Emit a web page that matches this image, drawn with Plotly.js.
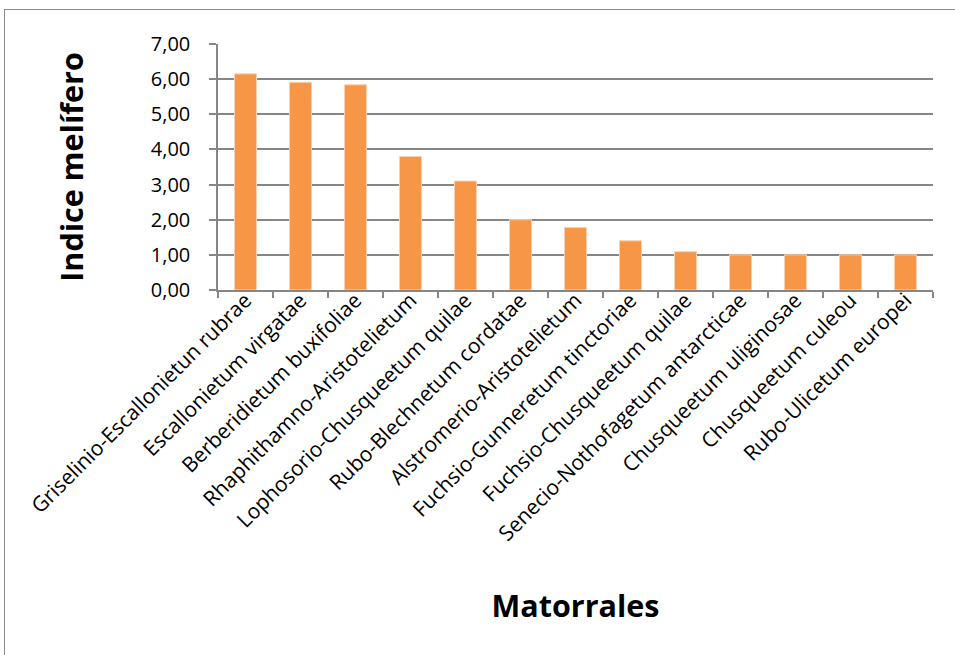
<!DOCTYPE html>
<html>
<head>
<meta charset="utf-8">
<script src="https://cdn.plot.ly/plotly-3.0.1.min.js"></script>
<style>
  html, body { margin: 0; padding: 0; background: #ffffff; }
  #frame { position: absolute; left: 4px; top: 9px; width: 1200px; height: 900px;
           border-left: 1.5px solid #8c8c8c; border-top: 1.5px solid #8c8c8c; }
  #chart { position: absolute; left: 0; top: 0; width: 955px; height: 655px; }
</style>
</head>
<body>
<div id="frame"></div>
<div id="chart"></div>
<script>
const categories = [
  "Griselinio-Escallonietun rubrae",
  "Escallonietum virgatae",
  "Berberidietum buxifoliae",
  "Rhaphithamno-Aristotelietum",
  "Lophosorio-Chusqueetum quilae",
  "Rubo-Blechnetum cordatae",
  "Alstromerio-Aristotelietum",
  "Fuchsio-Gunneretum tinctoriae",
  "Fuchsio-Chusqueetum quilae",
  "Senecio-Nothofagetum antarcticae",
  "Chusqueetum uliginosae",
  "Chusqueetum culeou",
  "Rubo-Ulicetum europei"
];
const indiceMelifero = [6.15, 5.91, 5.84, 3.80, 3.10, 2.00, 1.78, 1.40, 1.09, 1.00, 1.00, 1.00, 1.00];
const yTicks = [0, 1, 2, 3, 4, 5, 6, 7];
const xTitle = "Matorrales";
const yTitle = "Indice melífero";

const trace = {
  type: "bar",
  x: categories,
  y: indiceMelifero,
  marker: { color: "#F79646", line: { color: "#FBD0AE", width: 1 } },
  hoverinfo: "x+y"
};

const layout = {
  width: 955, height: 655,
  paper_bgcolor: "rgba(0,0,0,0)",
  plot_bgcolor: "rgba(0,0,0,0)",
  separators: ",.",
  margin: { l: 218, r: 22, t: 44, b: 365, autoexpand: false },
  bargap: 0.6,
  showlegend: false,
  font: { family: "Open Sans, sans-serif", color: "#000000" },
  xaxis: {
    type: "category",
    tickson: "boundaries",
    ticks: "outside", ticklen: 6, tickcolor: "#868686", tickwidth: 1.5,
    showline: true, linecolor: "#868686", linewidth: 1.5,
    showgrid: false,
    tickangle: -45,
    ticklabelstandoff: -12,
    tickfont: { size: 21, family: "Open Sans, sans-serif", color: "#000" },
    automargin: false,
    title: { text: xTitle, font: { size: 30.5, family: "Open Sans, sans-serif", weight: "bold", color: "#000" }, standoff: 50 }
  },
  yaxis: {
    range: [0, 7],
    tickvals: yTicks,
    tickformat: ".2f",
    ticks: "outside", ticklen: 7, tickcolor: "#868686", tickwidth: 1.5,
    showline: true, linecolor: "#868686", linewidth: 1.5,
    showgrid: true, gridcolor: "#868686", gridwidth: 1.5,
    zeroline: false,
    ticklabelstandoff: 15,
    tickfont: { size: 20, family: "Open Sans, sans-serif", color: "#000" },
    automargin: false,
    title: { text: yTitle, font: { size: 30.5, family: "Open Sans, sans-serif", weight: "bold", color: "#000" }, standoff: 58 }
  }
};

Plotly.newPlot("chart", [trace], layout, { displayModeBar: false, staticPlot: false });
</script>
</body>
</html>
